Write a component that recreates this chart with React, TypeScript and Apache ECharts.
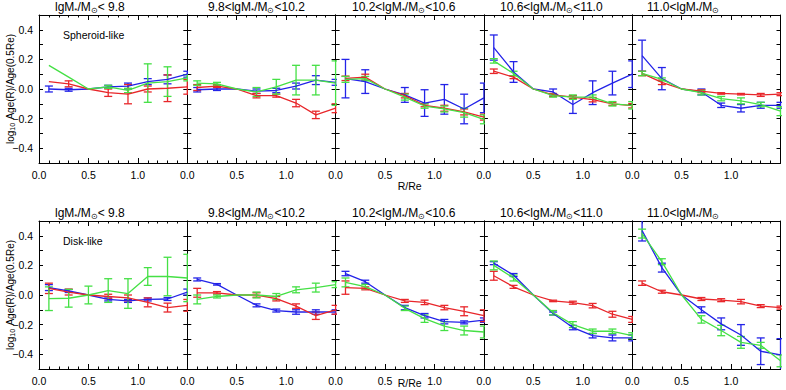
import React, { useEffect, useRef } from "react";
import * as echarts from "echarts";

// Radial bins in units of Re
const R = [0.1, 0.3, 0.5, 0.7, 0.9, 1.1, 1.3, 1.5];

// Stellar-mass bins: text before and after "lgM*/M⊙"
const massPrefix = ["", "9.8<", "10.2<", "10.6<", "11.0<"];
const massSuffix = ["< 9.8", "<10.2", "<10.6", "<11.0", ""];
const rowLabels = ["Spheroid-like", "Disk-like"];

const xTicks = [0, 0.5, 1.0];
const yTicks = [-0.4, -0.2, 0.0, 0.2, 0.4];

// Spheroid-like galaxies: one row per mass bin
const spheroidBlue = [
  [0.0, -0.005, 0, 0.015, 0.02, 0.05, 0.065, 0.1],
  [-0.005, 0.0, 0, -0.015, -0.01, 0.02, 0.06, 0.045],
  [0.07, 0.05, 0, -0.04, -0.095, -0.07, -0.135, -0.06],
  [0.28, 0.115, 0, -0.02, -0.105, -0.025, 0.04, 0.1],
  [0.225, 0.07, 0, -0.02, -0.11, -0.13, -0.11, -0.11],
];
const spheroidBlueErr = [
  [0.02, 0.01, 0, 0.01, 0.02, 0.02, 0.03, 0.02],
  [0.015, 0.01, 0, 0.015, 0.015, 0.02, 0.03, 0.02],
  [0.13, 0.08, 0, 0.05, 0.09, 0.1, 0.1, 0.1],
  [0.085, 0.07, 0, 0.02, 0.06, 0.08, 0.08, 0.09],
  [0.105, 0.075, 0, 0.02, 0.015, 0.025, 0.02, 0.02],
];
const spheroidRed = [
  [0.05, 0.035, 0, -0.025, -0.035, 0.0, 0.005, 0.015],
  [0.01, 0.02, 0, -0.045, -0.045, -0.095, -0.175, -0.13],
  [0.072, 0.08, 0, -0.045, -0.11, -0.13, -0.155, -0.19],
  [0.12, 0.08, 0, -0.04, -0.055, -0.072, -0.1, -0.113],
  [0.105, 0.045, 0, -0.015, -0.03, -0.035, -0.04, -0.035],
];
const spheroidRedErr = [
  [0, 0.02, 0, 0.025, 0.065, 0.02, 0.09, 0.05],
  [0.02, 0.01, 0, 0.015, 0.01, 0.025, 0.025, 0.03],
  [0.015, 0.02, 0, 0.015, 0.01, 0.02, 0.02, 0.02],
  [0.015, 0.01, 0, 0.01, 0.01, 0.015, 0.01, 0.015],
  [0.015, 0.015, 0, 0.01, 0.005, 0.005, 0.01, 0.01],
];
const spheroidGreen = [
  [0.16, 0.08, 0, 0.015, -0.01, 0.04, 0.05, 0.075],
  [0.04, 0.035, 0, -0.02, 0.015, 0.06, 0.06, 0.04],
  [0.065, 0.07, 0, -0.055, -0.115, -0.135, -0.16, -0.205],
  [0.19, 0.105, 0, -0.045, -0.055, -0.055, -0.1, -0.11],
  [0.105, 0.065, 0, -0.025, -0.065, -0.08, -0.105, -0.15],
];
const spheroidGreenErr = [
  [0, 0, 0, 0.01, 0.015, 0.13, 0.1, 0.02],
  [0.015, 0.01, 0, 0.03, 0.05, 0.1, 0.1, 0.15],
  [0.02, 0.015, 0, 0.02, 0.015, 0.02, 0.03, 0.03],
  [0.015, 0.015, 0, 0.01, 0.015, 0.015, 0.015, 0.025],
  [0.015, 0.01, 0, 0.015, 0.015, 0.02, 0.015, 0.03],
];

// Disk-like galaxies
const diskBlue = [
  [0.05, 0.027, 0, -0.03, -0.04, -0.03, -0.027, 0.02],
  [0.105, 0.072, 0, -0.07, -0.105, -0.115, -0.115, -0.115],
  [0.145, 0.09, 0, -0.085, -0.14, -0.18, -0.185, -0.17],
  [0.215, 0.135, 0, -0.125, -0.22, -0.275, -0.29, -0.29],
  [0.435, 0.185, 0, -0.1, -0.195, -0.27, -0.38, -0.405],
];
const diskBlueErr = [
  [0.02, 0.01, 0, 0.01, 0.01, 0.01, 0.01, 0.02],
  [0.01, 0.005, 0, 0.01, 0.01, 0.015, 0.015, 0.015],
  [0.015, 0.01, 0, 0.015, 0.015, 0.015, 0.01, 0.015],
  [0.01, 0.01, 0, 0.01, 0.015, 0.015, 0.02, 0.02],
  [0.07, 0.03, 0, 0.02, 0.04, 0.07, 0.09, 0.11],
];
const diskRed = [
  [0.045, 0.02, 0, -0.01, -0.02, -0.05, -0.085, -0.07],
  [0.015, 0.015, 0, 0.0, -0.025, -0.075, -0.14, -0.1],
  [0.05, 0.045, 0, -0.04, -0.05, -0.085, -0.11, -0.14],
  [0.13, 0.055, 0, -0.04, -0.052, -0.072, -0.13, -0.165],
  [0.08, 0.022, 0, -0.027, -0.035, -0.045, -0.075, -0.085],
];
const diskRedErr = [
  [0.035, 0.02, 0, 0.015, 0.02, 0.03, 0.03, 0.04],
  [0.03, 0.008, 0, 0.015, 0.015, 0.015, 0.025, 0.03],
  [0.045, 0.01, 0, 0.01, 0.015, 0.015, 0.03, 0.04],
  [0.03, 0.01, 0, 0.005, 0.01, 0.015, 0.02, 0.02],
  [0.015, 0.01, 0, 0.01, 0.01, 0.015, 0.01, 0.01],
];
const diskGreen = [
  [-0.025, -0.022, 0, 0.03, 0.01, 0.125, 0.125, 0.115],
  [-0.03, -0.01, 0, 0.0, -0.01, 0.035, 0.05, 0.07],
  [0.085, 0.057, 0, -0.09, -0.16, -0.21, -0.24, -0.25],
  [0.2, 0.115, 0, -0.12, -0.2, -0.245, -0.245, -0.275],
  [0.415, 0.225, 0, -0.165, -0.24, -0.32, -0.34, -0.445],
];
const diskGreenErr = [
  [0.08, 0.06, 0.06, 0.08, 0.1, 0.06, 0.13, 0.16],
  [0.03, 0.01, 0, 0.02, 0.02, 0.02, 0.03, 0.02],
  [0.03, 0.015, 0, 0.015, 0.025, 0.03, 0.03, 0.04],
  [0.03, 0.02, 0, 0.015, 0.02, 0.015, 0.015, 0.02],
  [0.03, 0.02, 0, 0.025, 0.035, 0.04, 0.02, 0.04],
];

const BLUE = "#2323e8";
const RED = "#e8262a";
const GREEN = "#45e045";
const FONT = "Liberation Sans, Arial, sans-serif";

const PANEL_LEFT = 39;
const PANEL_W = 148.3;
const PANEL_H = 148;
const ROW_TOP = [15, 221];
const TITLE_X = [55, 208, 352, 500, 647];

function fmt(v: number): string {
  const s = Math.abs(v).toFixed(1);
  return v < -1e-9 ? "\u2212" + s : s;
}

function errorBarItem(params: any, api: any) {
  const e = api.value(2);
  if (!e) return null;
  const x = api.value(0);
  const y = api.value(1);
  const top = api.coord([x, y + e]);
  const bot = api.coord([x, y - e]);
  const hw = 4;
  const style = { stroke: api.visual("color"), lineWidth: 1.3 };
  return {
    type: "group",
    children: [
      { type: "line", shape: { x1: top[0], y1: top[1], x2: bot[0], y2: bot[1] }, style },
      { type: "line", shape: { x1: top[0] - hw, y1: top[1], x2: top[0] + hw, y2: top[1] }, style },
      { type: "line", shape: { x1: bot[0] - hw, y1: bot[1], x2: bot[0] + hw, y2: bot[1] }, style },
    ],
  };
}

function buildOption() {
  const grid: any[] = [];
  const xAxis: any[] = [];
  const yAxis: any[] = [];
  const series: any[] = [];
  const graphic: any[] = [];

  const rows = [
    [
      [spheroidBlue, spheroidBlueErr, BLUE],
      [spheroidRed, spheroidRedErr, RED],
      [spheroidGreen, spheroidGreenErr, GREEN],
    ],
    [
      [diskBlue, diskBlueErr, BLUE],
      [diskRed, diskRedErr, RED],
      [diskGreen, diskGreenErr, GREEN],
    ],
  ] as any[];

  const axisLine = { show: true, onZero: false, lineStyle: { color: "#000", width: 1 } };

  for (let r = 0; r < 2; r++) {
    for (let p = 0; p < 5; p++) {
      const g = r * 5 + p;
      grid.push({
        left: PANEL_LEFT + p * PANEL_W,
        top: ROW_TOP[r],
        width: PANEL_W,
        height: PANEL_H,
        containLabel: false,
      });
      const xBase = {
        type: "value",
        gridIndex: g,
        min: 0,
        max: 1.5,
        interval: 0.5,
        axisLine,
        splitLine: { show: false },
        axisTick: { show: true, inside: true, length: 5, lineStyle: { color: "#000" } },
        minorTick: { show: true, splitNumber: 5, length: 2.5, lineStyle: { color: "#000" } },
      };
      xAxis.push({
        ...xBase,
        position: "bottom",
        axisLabel: {
          show: true,
          color: "#000",
          fontFamily: FONT,
          fontSize: 10.5,
          margin: 6,
          formatter: (v: number) => (xTicks.some((t) => Math.abs(t - v) < 1e-6) ? v.toFixed(1) : ""),
        },
      });
      xAxis.push({ ...xBase, position: "top", axisLabel: { show: false } });

      const yBase = {
        type: "value",
        gridIndex: g,
        min: -0.5,
        max: 0.5,
        interval: 0.1,
        axisLine,
        splitLine: { show: false },
        axisTick: { show: true, inside: true, length: 4, lineStyle: { color: "#000" } },
      };
      yAxis.push({
        ...yBase,
        position: "left",
        axisLabel: {
          show: p === 0,
          color: "#000",
          fontFamily: FONT,
          fontSize: 10.5,
          margin: 6,
          formatter: (v: number) => (yTicks.some((t) => Math.abs(t - v) < 1e-6) ? fmt(v) : ""),
        },
      });
      yAxis.push({ ...yBase, position: "right", axisLabel: { show: false } });

      for (const [vals, errs, color] of rows[r]) {
        series.push({
          type: "line",
          xAxisIndex: 2 * g,
          yAxisIndex: 2 * g,
          data: R.map((x, i) => [x, vals[p][i]]),
          symbol: "none",
          lineStyle: { color, width: 1.3 },
          itemStyle: { color },
          clip: true,
          silent: true,
        });
        series.push({
          type: "custom",
          xAxisIndex: 2 * g,
          yAxisIndex: 2 * g,
          data: R.map((x, i) => [x, vals[p][i], errs[p][i]]),
          encode: { x: 0, y: 1 },
          renderItem: errorBarItem,
          itemStyle: { color },
          clip: true,
          silent: true,
        });
      }

      graphic.push({
        type: "text",
        left: TITLE_X[p],
        top: ROW_TOP[r] - 14,
        style: {
          text: `{n|${massPrefix[p]}lgM}{s|*}{n|/M}{s|\u2299}{n|${massSuffix[p]}}`,
          rich: {
            n: { fontFamily: FONT, fontSize: 12, fontWeight: "normal", fill: "#000", lineHeight: 14 },
            s: {
              fontFamily: FONT,
              fontSize: 8,
              fontWeight: "normal",
              fill: "#000",
              lineHeight: 8,
              verticalAlign: "bottom",
            },
          },
        },
      });
    }

    graphic.push({
      type: "text",
      left: 63,
      top: ROW_TOP[r] + 14,
      style: { text: rowLabels[r], fontFamily: FONT, fontSize: 10.5, fontWeight: "normal", fill: "#000" },
    });

    graphic.push({
      type: "text",
      x: 10,
      y: ROW_TOP[r] + PANEL_H / 2,
      rotation: Math.PI / 2,
      style: {
        text: "{a|log}{b|10} {a|Age(R)/Age(0.5Re)}",
        align: "center",
        verticalAlign: "middle",
        rich: {
          a: { fontFamily: FONT, fontSize: 10, fontWeight: "normal", fill: "#000", lineHeight: 12 },
          b: {
            fontFamily: FONT,
            fontSize: 7,
            fontWeight: "normal",
            fill: "#000",
            lineHeight: 7,
            verticalAlign: "bottom",
          },
        },
      },
    });

    graphic.push({
      type: "text",
      x: PANEL_LEFT + 2.5 * PANEL_W,
      y: r === 0 ? ROW_TOP[r] + PANEL_H + 23 : 383,
      style: {
        text: "R/Re",
        align: "center",
        verticalAlign: "middle",
        fontFamily: FONT,
        fontSize: 10.5,
        fontWeight: "normal",
        fill: "#000",
      },
    });
  }

  return { animation: false, backgroundColor: "#fff", grid, xAxis, yAxis, series, graphic };
}

export default function App() {
  const ref = useRef<HTMLDivElement>(null);
  useEffect(() => {
    if (!ref.current) return;
    const chart = echarts.init(ref.current, null, { renderer: "svg" });
    chart.setOption(buildOption() as any);
    return () => chart.dispose();
  }, []);
  return <div ref={ref} style={{ width: 786, height: 390, position: "absolute", left: 0, top: 0 }} />;
}
